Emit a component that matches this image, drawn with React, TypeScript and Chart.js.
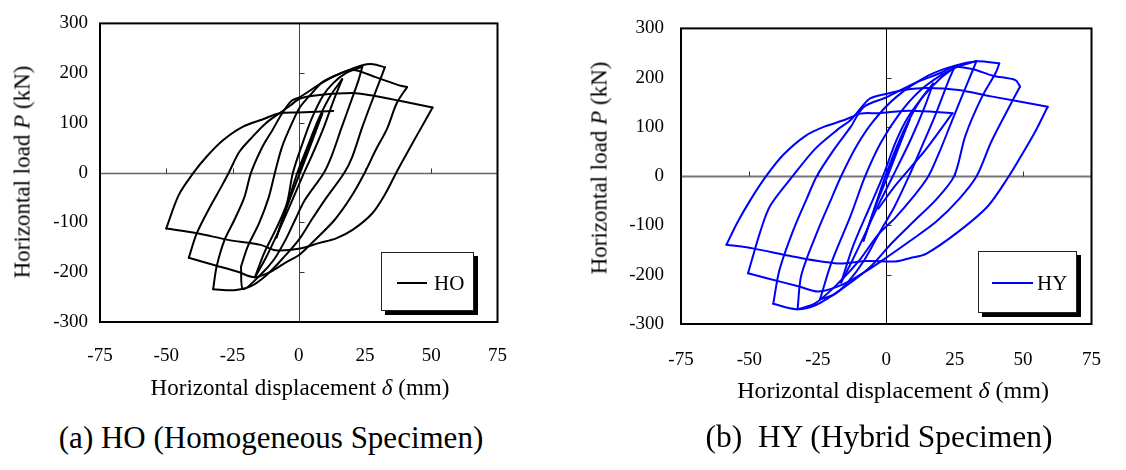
import React, { useEffect, useRef } from 'react';
import { Chart, registerables } from 'chart.js';

Chart.register(...registerables);

const SERIF = '"Liberation Serif", "Times New Roman", serif';

// axis ticks
const xTicks = [-75, -50, -25, 0, 25, 50, 75];
const yTicks = [-300, -200, -100, 0, 100, 200, 300];

// ---- HO (homogeneous specimen): [displacement mm, load kN] per cycle ----
const hoCycle1: [number, number][] = [[0, 0], [4.5, 62], [8.9, 119], [5.5, 70], [0.5, 0], [-4, -62], [-8.4, -130]];
const hoCycle2: [number, number][] = [[-8.4, -130], [-4.8, -72], [-0.5, 0], [3.5, 55], [7.5, 108], [12, 155], [16.4, 188], [13.5, 150], [9, 85], [5, 35], [2, 0], [-3, -62], [-8, -122], [-12.5, -172], [-16.5, -210]];
const hoCycle3: [number, number][] = [[-16.5, -210], [-13.1, -162], [-8.2, -109], [-4.5, -62], [-2.2, 0], [1.5, 60], [5, 110], [9.2, 155], [13, 180], [17.8, 200], [24, 213], [22.5, 185], [19.5, 140], [16, 88], [12.5, 35], [9.5, 0], [2.3, -55], [-1.4, -95], [-5, -135], [-9.4, -175], [-14.4, -205], [-21, -234]];
const hoCycle4: [number, number][] = [[-21, -234], [-21.8, -189], [-19.3, -149], [-15, -102], [-11.3, -49], [-9, 0], [-6.3, 52], [-2.6, 99], [0.5, 132], [5, 160], [9.2, 183], [17.8, 204], [24, 216], [28, 218], [32.5, 212], [31.4, 196], [27.7, 145], [24, 92], [20.2, 32], [17.2, 0], [9.8, -55], [4.8, -95], [0, -135], [-6, -172], [-12, -205], [-18, -228], [-24.3, -236], [-32.3, -234]];
const hoCycle5: [number, number][] = [[-32.3, -234], [-31, -189], [-28, -135], [-24.3, -95], [-20.5, -49], [-18, 0], [-13.7, 52], [-10, 85], [-6.3, 119], [-2.6, 145], [0.5, 152], [9.2, 182], [17.8, 204], [21.5, 206], [29, 192], [37.6, 176], [40.9, 172], [37, 140], [33.3, 88], [29, 45], [24.9, 0], [19.7, -49], [13.5, -95], [4.8, -142], [0, -166], [-4.5, -179], [-10.6, -199], [-16.8, -210], [-23, -199], [-31.7, -186], [-37.6, -177], [-41.5, -171]];
const hoCycle6: [number, number][] = [[-41.5, -171], [-38.5, -122], [-33.5, -69], [-29.2, -28], [-26.4, 0], [-22.4, 42], [-17.5, 72], [-12.5, 99], [-6.9, 121], [-3.2, 135], [0.5, 149], [7.9, 156], [20.3, 160], [26.5, 156], [37.6, 145], [50.5, 131], [45, 79], [40.1, 32], [36.8, 0], [32.7, -42], [27.7, -82], [20.3, -115], [14.1, -132], [7.9, -141], [0, -153], [-8.8, -156], [-14.4, -145], [-26.7, -135], [-37.9, -122], [-50, -112]];
const hoFinal: [number, number][] = [[-50, -112], [-45.3, -45], [-39.7, 0], [-34.8, 32], [-28.6, 65], [-21.2, 92], [-13.7, 107], [-7.5, 119], [0, 121], [13, 124]];

// ---- HY (hybrid specimen) ----
const hyCycle1: [number, number][] = [[0, 0], [4, 55], [8.5, 115], [4.5, 58], [0.5, 0], [-4, -62], [-8.3, -131]];
const hyCycle2: [number, number][] = [[-8.3, -131], [-4.5, -68], [-0.3, 0], [4, 62], [8.3, 114], [12.5, 155], [17.1, 188], [14, 140], [9, 75], [2.4, 0], [-3, -60], [-8, -120], [-12.5, -172], [-16.5, -216]];
const hyCycle3: [number, number][] = [[-16.5, -216], [-12, -140], [-6, -62], [-1.2, 0], [3.5, 70], [8, 120], [14, 165], [20, 200], [24.8, 220], [22.5, 190], [18, 125], [13, 60], [8.3, 0], [3, -62], [-2, -110], [-8, -170], [-14, -215], [-19, -240], [-24.2, -250]];
const hyCycle4: [number, number][] = [[-24.2, -250], [-20, -175], [-13, -80], [-7.7, 0], [-2, 68], [5, 128], [12, 172], [20, 205], [26, 222], [33, 234], [31.3, 211], [27.5, 160], [23.5, 105], [19.5, 50], [15.4, 0], [10, -41], [3, -86], [-2.9, -118], [-10, -172], [-18, -220], [-26, -258], [-32.4, -270]];
const hyCycle5: [number, number][] = [[-32.4, -270], [-31, -200], [-25, -110], [-20, -45], [-16.5, 0], [-11, 60], [-5, 110], [3.5, 160], [15.3, 204], [24.8, 224], [33, 233], [41.3, 229], [40.1, 211], [34.8, 159], [28.9, 82], [24.8, 0], [18.3, -47], [10, -92], [1.8, -137], [-6, -185], [-16, -228], [-25.9, -262], [-33, -270], [-41.3, -259]];
const hyCycle6: [number, number][] = [[-41.3, -259], [-39, -190], [-34, -110], [-29, -45], [-25.4, 0], [-19, 55], [-13, 100], [-8.3, 140], [0, 160], [10, 188], [20, 210], [24.8, 222], [31.8, 217], [38.9, 204], [47.2, 195], [48.9, 182], [44.2, 133], [38.3, 69], [33, 0], [26.5, -47], [18.3, -92], [8.8, -131], [0.6, -163], [-8, -195], [-16, -220], [-24.8, -234], [-31.8, -224], [-43.6, -207], [-50.5, -197]];
const hyCycle7: [number, number][] = [[-50.5, -197], [-46, -112], [-42.4, -60], [-34.2, 0], [-25.9, 56], [-17.7, 95], [-13, 114], [-9, 140], [-5.9, 158], [0.6, 168], [6.5, 175], [14.7, 179], [26.5, 175], [38.3, 162], [59, 141], [54.2, 88], [49.5, 43], [44.8, 0], [37.1, -61], [26.5, -112], [14.7, -157], [8.8, -166], [3.5, -173], [-7.1, -172], [-17.7, -177], [-34.2, -163], [-48.3, -147], [-58.4, -139]];
const hyFinal: [number, number][] = [[-58.4, -139], [-54.2, -92], [-49.5, -47], [-43.9, 0], [-37.7, 43], [-29.5, 82], [-22.4, 101], [-15.3, 114], [-9.4, 127], [-2.9, 128], [8.8, 133], [24.2, 128], [14.7, 56], [8.8, 17], [3, -21], [-2.9, -66]];

const hoCycles = [hoCycle1, hoCycle2, hoCycle3, hoCycle4, hoCycle5, hoCycle6, hoFinal];
const hyCycles = [hyCycle1, hyCycle2, hyCycle3, hyCycle4, hyCycle5, hyCycle6, hyCycle7, hyFinal];

type Pt = { x: number; y: number };

function joinCycles(cycles: [number, number][][]) {
  const pts: Pt[] = [];
  cycles.forEach((c, i) =>
    c.forEach((p, j) => {
      if (i > 0 && j === 0) return;
      pts.push({ x: p[0], y: p[1] });
    })
  );
  return pts;
}

// split the loading path into branches at every reversal of displacement,
// so each branch can be drawn smooth while the peaks stay sharp
function toBranches(cycles: [number, number][][]) {
  const path = joinCycles(cycles);
  const branches: Pt[][] = [];
  let cur: Pt[] = [path[0]];
  let dir = 0;
  for (let i = 1; i < path.length; i++) {
    const d = Math.sign(path[i].x - path[i - 1].x);
    if (dir !== 0 && d !== 0 && d !== dir) {
      branches.push(cur);
      cur = [path[i - 1]];
    }
    if (d !== 0) dir = d;
    cur.push(path[i]);
  }
  branches.push(cur);
  return branches;
}

const hystPlugin = {
  id: 'hyst',
  beforeDatasetsDraw(chart: any, _a: any, o: any) {
    const { ctx, chartArea: a } = chart;
    const xs = chart.scales.x;
    const ys = chart.scales.y;
    const x0 = Math.round(xs.getPixelForValue(0)) + 0.5;
    const y0 = Math.round(ys.getPixelForValue(0)) + 0.5;
    ctx.save();
    ctx.strokeStyle = o.hColor;
    ctx.lineWidth = o.hWidth;
    ctx.beginPath();
    ctx.moveTo(a.left, y0);
    ctx.lineTo(a.right, y0);
    ctx.stroke();
    ctx.strokeStyle = o.vColor;
    ctx.lineWidth = o.vWidth;
    ctx.beginPath();
    ctx.moveTo(x0, a.top);
    ctx.lineTo(x0, a.bottom);
    ctx.stroke();
    ctx.lineWidth = 1;
    ctx.strokeStyle = o.tickColor;
    xTicks.forEach((v) => {
      if (v === 0 || v === xTicks[0] || v === xTicks[xTicks.length - 1]) return;
      const px = Math.round(xs.getPixelForValue(v)) + 0.5;
      ctx.beginPath();
      ctx.moveTo(px, y0);
      ctx.lineTo(px, y0 - 5);
      ctx.stroke();
    });
    yTicks.forEach((v) => {
      if (v === 0 || v === yTicks[0] || v === yTicks[yTicks.length - 1]) return;
      const py = Math.round(ys.getPixelForValue(v)) + 0.5;
      ctx.beginPath();
      ctx.moveTo(x0, py);
      ctx.lineTo(x0 + 5, py);
      ctx.stroke();
    });
    ctx.restore();
  },
  afterDraw(chart: any, _a: any, o: any) {
    const { ctx, chartArea: a } = chart;
    ctx.save();
    ctx.strokeStyle = '#000';
    ctx.lineWidth = 2;
    ctx.strokeRect(a.left, a.top, a.right - a.left, a.bottom - a.top);
    // legend box with shadow
    const L = o.legend;
    ctx.fillStyle = '#000';
    ctx.fillRect(L.x + 4, L.y + 4, L.w, L.h);
    ctx.fillStyle = '#fff';
    ctx.fillRect(L.x, L.y, L.w, L.h);
    ctx.lineWidth = 1;
    ctx.strokeStyle = '#222';
    ctx.strokeRect(L.x + 0.5, L.y + 0.5, L.w - 1, L.h - 1);
    const ds = chart.data.datasets[0];
    ctx.strokeStyle = ds.borderColor;
    ctx.lineWidth = 2;
    ctx.beginPath();
    ctx.moveTo(L.lineX1, L.lineY);
    ctx.lineTo(L.lineX2, L.lineY);
    ctx.stroke();
    ctx.fillStyle = '#000';
    ctx.font = `${L.fontSize}px ${SERIF}`;
    ctx.textBaseline = 'middle';
    ctx.textAlign = 'left';
    ctx.fillText(ds.label, L.textX, L.lineY + 1);
    ctx.restore();
  },
};

type PanelProps = {
  cycles: [number, number][][];
  label: string;
  color: string;
  left: number;
  width: number;
  areaLeft: number;
  areaRight: number;
  areaTop: number;
  areaBottom: number;
  yPad: number;
  xPad: number;
  hColor: string;
  hWidth: number;
  vColor: string;
  vWidth: number;
  legend: any;
};

const CANVAS_H = 400;

function Panel(p: PanelProps) {
  const ref = useRef<HTMLCanvasElement>(null);
  useEffect(() => {
    const branches = toBranches(p.cycles);
    const chart = new Chart(ref.current as HTMLCanvasElement, {
      type: 'scatter',
      data: {
        datasets: branches.map(
          (b, i) =>
            ({
              label: i === 0 ? p.label : p.label + ' ' + i,
              data: b,
              borderColor: p.color,
              backgroundColor: p.color,
              borderWidth: 2,
              pointRadius: 0,
              showLine: true,
              tension: 0.3,
              borderJoinStyle: 'round',
              borderCapStyle: 'round',
            } as any)
        ),
      },
      options: {
        animation: false,
        responsive: false,
        events: [],
        layout: {
          padding: { left: 0, right: p.width - p.areaRight, top: p.areaTop, bottom: 0 },
        },
        plugins: {
          legend: { display: false },
          tooltip: { enabled: false },
          hyst: {
            hColor: p.hColor,
            hWidth: p.hWidth,
            vColor: p.vColor,
            vWidth: p.vWidth,
            tickColor: '#333',
            legend: p.legend,
          },
        } as any,
        scales: {
          x: {
            type: 'linear',
            min: xTicks[0],
            max: xTicks[xTicks.length - 1],
            afterBuildTicks: (s: any) => {
              s.ticks = xTicks.map((v) => ({ value: v }));
            },
            afterFit: (s: any) => {
              s.height = CANVAS_H - p.areaBottom;
            },
            grid: { display: false, drawTicks: false },
            border: { display: false },
            ticks: {
              color: '#000',
              font: { family: SERIF, size: 19 },
              padding: p.xPad,
              maxRotation: 0,
              autoSkip: false,
            },
          },
          y: {
            type: 'linear',
            min: yTicks[0],
            max: yTicks[yTicks.length - 1],
            afterBuildTicks: (s: any) => {
              s.ticks = yTicks.map((v) => ({ value: v }));
            },
            afterFit: (s: any) => {
              s.width = p.areaLeft;
            },
            grid: { display: false, drawTicks: false },
            border: { display: false },
            ticks: {
              color: '#000',
              font: { family: SERIF, size: 19 },
              padding: p.yPad,
              autoSkip: false,
            },
          },
        },
      },
      plugins: [hystPlugin as any],
    });
    return () => chart.destroy();
  }, []);
  return (
    <canvas
      ref={ref}
      width={p.width}
      height={CANVAS_H}
      style={{ position: 'absolute', left: p.left, top: 0, width: p.width, height: CANVAS_H }}
    />
  );
}

const textBase: React.CSSProperties = {
  position: 'absolute',
  fontFamily: SERIF,
  color: '#000',
  whiteSpace: 'nowrap',
  lineHeight: 1,
};

function Label(props: { x: number; y: number; size: number; rotate?: boolean; children: React.ReactNode }) {
  return (
    <div
      style={{
        ...textBase,
        left: props.x,
        top: props.y,
        fontSize: props.size,
        transform: `translate(-50%, -50%)${props.rotate ? ' rotate(-90deg)' : ''}`,
      }}
    >
      {props.children}
    </div>
  );
}

export default function App() {
  return (
    <div style={{ position: 'fixed', left: 0, top: 0, width: 1126, height: 470, background: '#fff', overflow: 'hidden' }}>
      <Panel
        cycles={hoCycles}
        label="HO"
        color="#000"
        left={0}
        width={530}
        areaLeft={100}
        areaRight={504}
        areaTop={23}
        areaBottom={322}
        yPad={12}
        xPad={23}
        hColor="#666"
        hWidth={1.5}
        vColor="#444"
        vWidth={1}
        legend={{ x: 381, y: 252, w: 93, h: 59, lineX1: 397, lineX2: 427, lineY: 283, textX: 434, fontSize: 21 }}
      />
      <Panel
        cycles={hyCycles}
        label="HY"
        color="#0000ff"
        left={560}
        width={566}
        areaLeft={121}
        areaRight={546}
        areaTop={14}
        areaBottom={324}
        yPad={17}
        xPad={25}
        hColor="#777"
        hWidth={2}
        vColor="#000"
        vWidth={1}
        legend={{ x: 418, y: 251, w: 99, h: 62, lineX1: 432, lineX2: 473, lineY: 283, textX: 477, fontSize: 21 }}
      />
      <Label x={22} y={172} size={23} rotate>
        Horizontal load <i>P</i> (kN)
      </Label>
      <Label x={300} y={387} size={23}>
        Horizontal displacement <i>δ</i> (mm)
      </Label>
      <Label x={599} y={168} size={23} rotate>
        Horizontal load <i>P</i> (kN)
      </Label>
      <Label x={893} y={390} size={24}>
        Horizontal displacement <i>δ</i> (mm)
      </Label>
      <Label x={271} y={437} size={31}>
        (a) HO (Homogeneous Specimen)
      </Label>
      <Label x={879} y={437} size={31.5}>
        (b)&nbsp; HY (Hybrid Specimen)
      </Label>
    </div>
  );
}
